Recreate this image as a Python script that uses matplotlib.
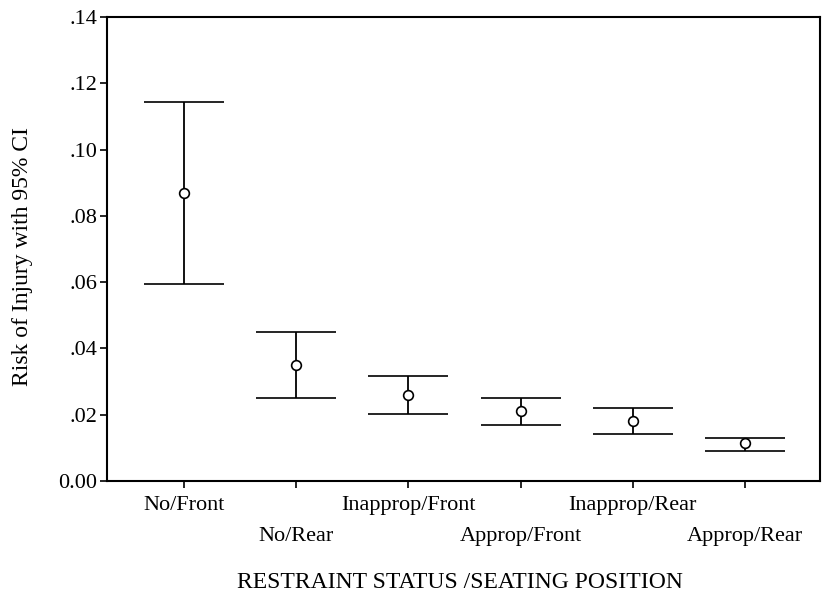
import matplotlib
matplotlib.use("Agg")
import matplotlib.pyplot as plt
import numpy as np

categories = ["No/Front", "No/Rear", "Inapprop/Front", "Approp/Front", "Inapprop/Rear", "Approp/Rear"]
risk = [0.087, 0.035, 0.026, 0.0212, 0.0181, 0.0114]
ci_low = [0.0595, 0.0251, 0.0202, 0.0170, 0.0141, 0.0090]
ci_high = [0.1144, 0.0449, 0.0318, 0.0251, 0.0221, 0.0131]
ytick_vals = [0.0, 0.02, 0.04, 0.06, 0.08, 0.10, 0.12, 0.14]
ytick_labels = ["0.00", ".02", ".04", ".06", ".08", ".10", ".12", ".14"]

plt.rcParams['font.family'] = ['Liberation Serif', 'DejaVu Serif']

fig = plt.figure(figsize=(8.23, 5.91), dpi=100)
ax = fig.add_axes([107/823, 1 - 481/591, (820 - 107)/823, (481 - 17)/591])

x = np.arange(len(categories))
risk = np.array(risk); lo = np.array(ci_low); hi = np.array(ci_high)
ax.errorbar(x, risk, yerr=[risk - lo, hi - risk], fmt='o', mfc='white', mec='black',
            ecolor='black', color='black', ms=7, mew=1.2, elinewidth=1.3,
            capsize=29, capthick=1.5)

ax.set_xlim(-0.686, 5.668)
ax.set_ylim(0, 0.14)
ax.set_yticks(ytick_vals)
ax.set_yticklabels(ytick_labels, fontsize=16)
ax.set_xticks(x)
ax.set_xticklabels(categories, fontsize=16)
for i, lab in enumerate(ax.get_xticklabels()):
    if i % 2 == 1:
        lab.set_y(-0.067)
ax.tick_params(axis='both', direction='out', length=5, width=1.2)
ax.tick_params(axis='x', pad=6)
ax.tick_params(axis='y', pad=2)
for s in ax.spines.values():
    s.set_linewidth(1.5)

ax.set_ylabel("Risk of Injury with 95% CI", fontsize=17, va='center')
ax.yaxis.set_label_coords(-0.118, 0.483)
fig.text(460 / 823, 1 - 582/591, "RESTRAINT STATUS /SEATING POSITION",
         ha='center', va='center', fontsize=17)

fig.savefig("out.png", dpi=100)
